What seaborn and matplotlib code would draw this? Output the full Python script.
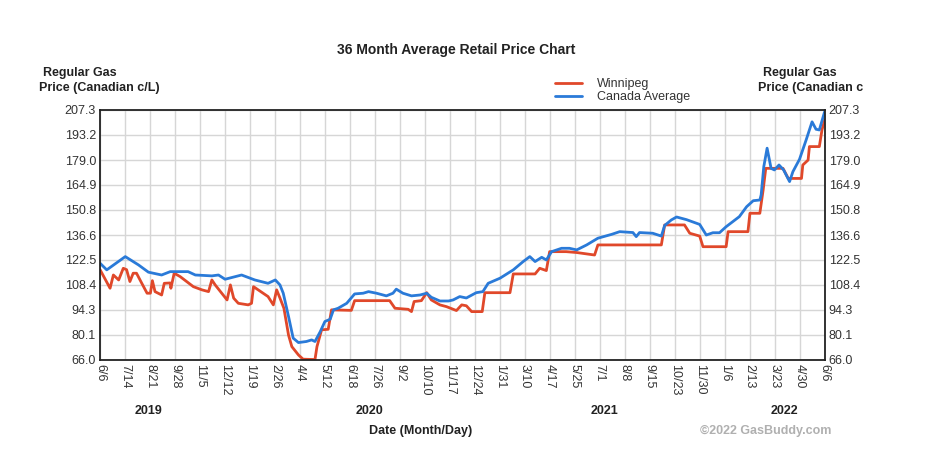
import pandas as pd
import numpy as np
import matplotlib
matplotlib.use('Agg')
import matplotlib.pyplot as plt
import matplotlib.dates as mdates
import seaborn as sns

# Datos (c/L)
fechas_canada = ['2019-06-06', '2019-06-16', '2019-07-14', '2019-08-03', '2019-08-18', '2019-09-07',
                 '2019-09-20', '2019-10-17', '2019-10-28', '2019-11-22', '2019-12-02', '2019-12-12',
                 '2020-01-06', '2020-01-26', '2020-02-15', '2020-02-26', '2020-03-04', '2020-03-09',
                 '2020-03-17', '2020-03-24', '2020-04-01', '2020-04-13', '2020-04-21', '2020-04-26',
                 '2020-05-04', '2020-05-11', '2020-05-19', '2020-05-24', '2020-05-31', '2020-06-13',
                 '2020-06-25', '2020-07-08', '2020-07-16', '2020-07-28', '2020-08-12', '2020-08-22',
                 '2020-08-27', '2020-09-06', '2020-09-19', '2020-10-02', '2020-10-12', '2020-10-19',
                 '2020-11-01', '2020-11-14', '2020-11-21', '2020-12-01', '2020-12-11', '2020-12-26',
                 '2021-01-05', '2021-01-13', '2021-01-31', '2021-02-20', '2021-03-07', '2021-03-17',
                 '2021-03-25', '2021-04-04', '2021-04-11', '2021-04-19', '2021-05-04', '2021-05-16',
                 '2021-05-27', '2021-06-11', '2021-06-28', '2021-07-19', '2021-07-31', '2021-08-20',
                 '2021-08-25', '2021-08-30', '2021-09-19', '2021-10-02', '2021-10-07', '2021-10-17',
                 '2021-10-25', '2021-11-09', '2021-11-29', '2021-12-09', '2021-12-19', '2021-12-29',
                 '2022-01-08', '2022-01-28', '2022-02-08', '2022-02-18', '2022-02-28', '2022-03-02',
                 '2022-03-06', '2022-03-11', '2022-03-17', '2022-03-22', '2022-03-29', '2022-04-05',
                 '2022-04-14', '2022-04-19', '2022-04-29', '2022-05-09', '2022-05-18', '2022-05-24',
                 '2022-05-29', '2022-06-06']
precio_canada = [120.6, 116.9, 124.4, 119.7, 115.6, 114.0,
                 115.9, 115.9, 114.0, 113.5, 114.0, 111.6,
                 114.0, 111.2, 109.3, 111.2, 108.4, 103.7,
                 90.5, 78.3, 75.8, 76.4, 77.3, 76.4,
                 82.0, 87.7, 89.0, 94.3, 95.2, 98.0,
                 103.3, 103.7, 104.6, 103.7, 102.2, 103.7,
                 106.0, 103.7, 102.2, 102.7, 103.7, 101.4,
                 99.3, 99.3, 99.9, 101.8, 101.0, 104.0,
                 104.6, 109.3, 112.2, 116.9, 121.6, 124.4,
                 121.6, 124.0, 122.5, 127.2, 129.1, 129.1,
                 128.2, 131.0, 134.8, 137.0, 138.5, 138.0,
                 135.7, 138.0, 137.6, 136.0, 142.0, 145.1,
                 146.8, 145.3, 142.6, 136.6, 137.9, 137.9,
                 141.3, 147.0, 152.6, 156.0, 156.4, 159.3,
                 175.3, 185.7, 174.3, 173.4, 176.2, 173.4,
                 166.8, 172.4, 179.4, 190.3, 200.6, 196.4,
                 196.0, 206.3]

fechas_winnipeg = ['2019-06-06', '2019-06-21', '2019-06-26', '2019-07-04', '2019-07-11', '2019-07-16',
                   '2019-07-21', '2019-07-26', '2019-07-31', '2019-08-08', '2019-08-16', '2019-08-21',
                   '2019-08-24', '2019-08-28', '2019-09-07', '2019-09-11', '2019-09-20', '2019-09-21',
                   '2019-09-26', '2019-10-05', '2019-10-25', '2019-11-07', '2019-11-17', '2019-11-22',
                   '2019-11-27', '2019-12-15', '2019-12-20', '2019-12-25', '2020-01-01', '2020-01-16',
                   '2020-01-21', '2020-01-24', '2020-02-15', '2020-02-23', '2020-02-28', '2020-03-04',
                   '2020-03-10', '2020-03-17', '2020-03-22', '2020-04-01', '2020-04-08', '2020-04-26',
                   '2020-04-29', '2020-05-06', '2020-05-16', '2020-05-21', '2020-06-20', '2020-06-25',
                   '2020-08-17', '2020-08-25', '2020-09-14', '2020-09-19', '2020-09-23', '2020-10-04',
                   '2020-10-12', '2020-10-19', '2020-11-01', '2020-11-11', '2020-11-26', '2020-12-04',
                   '2020-12-11', '2020-12-19', '2021-01-04', '2021-01-08', '2021-02-15', '2021-02-20',
                   '2021-03-25', '2021-04-01', '2021-04-11', '2021-04-16', '2021-05-11', '2021-05-27',
                   '2021-06-23', '2021-06-28', '2021-10-02', '2021-10-07', '2021-11-06', '2021-11-14',
                   '2021-11-29', '2021-12-04', '2022-01-08', '2022-01-11', '2022-02-10', '2022-02-13',
                   '2022-02-28', '2022-03-05', '2022-03-09', '2022-04-04', '2022-04-12', '2022-05-02',
                   '2022-05-04', '2022-05-12', '2022-05-14', '2022-05-29', '2022-06-02', '2022-06-06']
precio_winnipeg = [116.9, 106.5, 114.0, 111.2, 117.8, 117.0,
                   110.3, 115.0, 115.0, 109.3, 103.7, 103.7,
                   110.8, 104.6, 102.7, 109.3, 109.5, 106.5,
                   115.0, 113.1, 107.4, 105.6, 104.6, 111.2,
                   108.4, 99.9, 108.4, 100.9, 98.0, 97.1,
                   98.0, 107.4, 101.8, 97.1, 105.6, 101.0,
                   95.2, 80.0, 73.5, 68.8, 66.4, 66.2,
                   73.5, 83.0, 83.3, 94.3, 94.0, 99.5,
                   99.5, 95.2, 94.6, 93.3, 99.0, 99.5,
                   104.0, 99.9, 97.1, 96.1, 93.9, 97.1,
                   96.6, 93.3, 93.3, 104.0, 104.0, 114.6,
                   114.6, 117.8, 116.5, 127.2, 127.2, 126.7,
                   125.3, 131.0, 131.0, 142.3, 142.3, 137.6,
                   136.0, 130.0, 130.0, 138.5, 138.5, 148.9,
                   148.9, 162.1, 174.3, 174.3, 168.6, 168.6,
                   176.2, 179.0, 186.6, 186.6, 196.0, 201.6]

etiquetas_x = ['6/6', '7/14', '8/21', '9/28', '11/5', '12/12', '1/19', '2/26', '4/4', '5/12',
               '6/18', '7/26', '9/2', '10/10', '11/17', '12/24', '1/31', '3/10', '4/17', '5/25',
               '7/1', '8/8', '9/15', '10/23', '11/30', '1/6', '2/13', '3/23', '4/30', '6/6']
etiquetas_y = ['66.0', '80.1', '94.3', '108.4', '122.5', '136.6', '150.8', '164.9', '179.0', '193.2', '207.3']
anios = ['2019', '2020', '2021', '2022']
fechas_anios = ['2019-08-18', '2020-07-18', '2021-07-08', '2022-04-06']

df = pd.concat([
    pd.DataFrame({'fecha': pd.to_datetime(fechas_winnipeg), 'precio': precio_winnipeg, 'serie': 'Winnipeg'}),
    pd.DataFrame({'fecha': pd.to_datetime(fechas_canada), 'precio': precio_canada, 'serie': 'Canada Average'}),
])

sns.set_style('white')
plt.rcParams['font.family'] = ['Liberation Sans', 'DejaVu Sans']

fig = plt.figure(figsize=(9.36, 4.68), dpi=100)
ax = fig.add_axes([0.107, 0.231, 0.774, 0.534])

sns.lineplot(data=df, x='fecha', y='precio', hue='serie', ax=ax,
             palette={'Winnipeg': '#e0482a', 'Canada Average': '#2a7ad8'},
             linewidth=2, legend=False, estimator=None, sort=True)

inicio = pd.Timestamp(fechas_canada[0])
fin = pd.Timestamp(fechas_canada[-1])
x0, x1 = mdates.date2num(inicio), mdates.date2num(fin)
ax.set_xlim(x0, x1)
ax.set_xticks(np.linspace(x0, x1, len(etiquetas_x)))
ax.set_xticklabels(etiquetas_x, rotation=-90, fontsize=9, color='#333333')

valores_y = [float(v) for v in etiquetas_y]
ax.set_ylim(valores_y[0], valores_y[-1])
ax.set_yticks(valores_y)
ax.set_yticklabels(etiquetas_y, fontsize=9, color='#333333')
ax.tick_params(axis='both', length=0, pad=3)
ax.set_xlabel('')
ax.set_ylabel('')

ax.grid(True, color='#d6d6d6', linewidth=1)
for s in ax.spines.values():
    s.set_color('#222222')
    s.set_linewidth(1.3)

ax2 = ax.twinx()
ax2.set_ylim(valores_y[0], valores_y[-1])
ax2.set_yticks(valores_y)
ax2.set_yticklabels(etiquetas_y, fontsize=9, color='#333333')
ax2.tick_params(axis='y', length=0, pad=3)
for s in ax2.spines.values():
    s.set_visible(False)

# Etiquetas de años bajo las fechas
for a, f in zip(anios, fechas_anios):
    ax.text(mdates.date2num(pd.Timestamp(f)), -0.206, a, transform=ax.get_xaxis_transform(),
            ha='center', va='center', fontsize=9, fontweight='bold', color='#222222')

fig.text(0.487, 0.893, '36 Month Average Retail Price Chart', ha='center', va='center',
         fontsize=10, fontweight='bold', color='#222222')
fig.text(0.046, 0.843, 'Regular Gas', ha='left', va='center', fontsize=9, fontweight='bold', color='#222222')
fig.text(0.042, 0.812, 'Price (Canadian c/L)', ha='left', va='center', fontsize=9, fontweight='bold', color='#222222')
fig.text(0.815, 0.845, 'Regular Gas', ha='left', va='center', fontsize=9, fontweight='bold', color='#222222')
fig.text(0.81, 0.812, 'Price (Canadian c', ha='left', va='center', fontsize=9, fontweight='bold', color='#222222')

fig.text(0.449, 0.079, 'Date (Month/Day)', ha='center', va='center', fontsize=9, fontweight='bold', color='#222222')
fig.text(0.818, 0.079, '\u00a92022 GasBuddy.com', ha='center', va='center', fontsize=9,
         fontweight='bold', color='#b0b0b0')

# Leyenda manual
fig.legend(handles=[plt.Line2D([], [], color='#e0482a', lw=2), plt.Line2D([], [], color='#2a7ad8', lw=2)],
           labels=['Winnipeg', 'Canada Average'], loc='center left', bbox_to_anchor=(0.586, 0.806),
           frameon=False, fontsize=9, handlelength=2.2, handletextpad=1.2, labelspacing=0.1,
           labelcolor='#333333', borderpad=0)

fig.savefig('out.png', dpi=100, facecolor='white')
